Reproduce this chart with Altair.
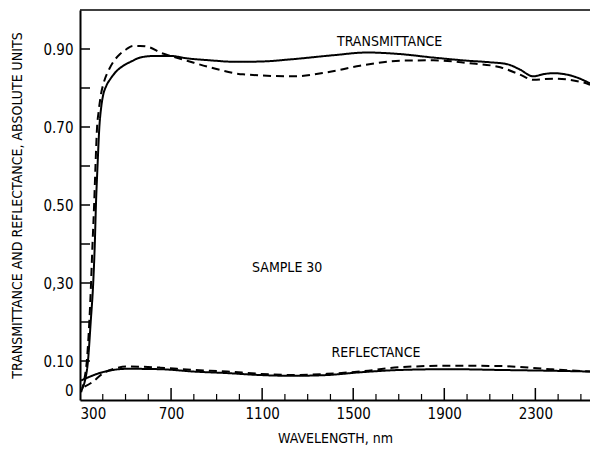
import altair as alt
import pandas as pd

# ---- data ----
t_solid_nm = [310, 322, 335, 347, 358, 365, 370, 377, 385, 393, 401, 415, 432, 460, 490, 525, 564, 620, 700, 770, 870, 990, 1100, 1236, 1412, 1561, 1706, 1852, 2001, 2100, 2177, 2230, 2291, 2340, 2379, 2467, 2540]
t_solid_v = [0.03, 0.05, 0.10, 0.20, 0.30, 0.40, 0.50, 0.60, 0.70, 0.75, 0.78, 0.805, 0.822, 0.843, 0.857, 0.868, 0.878, 0.882, 0.882, 0.876, 0.871, 0.867, 0.868, 0.874, 0.884, 0.891, 0.887, 0.878, 0.870, 0.866, 0.861, 0.848, 0.830, 0.836, 0.838, 0.830, 0.812]

t_dash_nm = [305, 318, 330, 345, 355, 362, 368, 375, 382, 391, 405, 428, 450, 476, 505, 533, 564, 607, 652, 700, 770, 871, 1016, 1236, 1385, 1530, 1706, 1852, 2001, 2146, 2230, 2291, 2379, 2511, 2540]
t_dash_v = [0.02, 0.05, 0.10, 0.25, 0.40, 0.50, 0.60, 0.70, 0.74, 0.78, 0.815, 0.848, 0.870, 0.887, 0.900, 0.908, 0.908, 0.904, 0.891, 0.882, 0.870, 0.853, 0.835, 0.830, 0.840, 0.857, 0.870, 0.871, 0.864, 0.853, 0.835, 0.821, 0.824, 0.814, 0.808]

r_solid_nm = [305, 344, 380, 445, 505, 652, 797, 946, 1091, 1236, 1385, 1530, 1706, 1926, 2146, 2366, 2540]
r_solid_v = [0.050, 0.060, 0.068, 0.077, 0.080, 0.079, 0.073, 0.069, 0.064, 0.062, 0.064, 0.071, 0.077, 0.079, 0.077, 0.075, 0.073]

r_dash_nm = [320, 357, 400, 450, 505, 652, 797, 946, 1091, 1236, 1385, 1530, 1706, 1926, 2146, 2366, 2540]
r_dash_v = [0.034, 0.047, 0.068, 0.080, 0.086, 0.083, 0.077, 0.073, 0.067, 0.064, 0.067, 0.073, 0.084, 0.088, 0.087, 0.079, 0.073]

y_tick_values = [0, 0.1, 0.3, 0.5, 0.7, 0.9]
y_tick_labels = ["0", "0.10", "0,30", "0.50", "0.70", "0.90"]
y_minor_ticks = [0.1, 0.2, 0.3, 0.4, 0.5, 0.6, 0.7, 0.8, 0.9]
x_major_ticks = [300, 700, 1100, 1500, 1900, 2300]
x_minor_ticks = [400, 500, 600, 800, 900, 1000, 1200, 1300, 1400, 1600, 1700, 1800, 2000, 2100, 2200, 2400, 2500]

annot_text = ["TRANSMITTANCE", "SAMPLE 30", "REFLECTANCE"]
annot_nm = [1660, 1210, 1600]
annot_v = [0.918, 0.339, 0.121]

FONT = "Liberation Sans Narrow, DejaVu Sans Condensed, Roboto Condensed, Roboto, sans-serif"

W, H = 510, 390

rows = []
for name, style, xs, ys in [
    ("T_solid", "solid", t_solid_nm, t_solid_v),
    ("T_dash", "dashed", t_dash_nm, t_dash_v),
    ("R_solid", "solid", r_solid_nm, r_solid_v),
    ("R_dash", "dashed", r_dash_nm, r_dash_v),
]:
    for x, y in zip(xs, ys):
        rows.append({"nm": x, "v": y, "curve": name, "style": style})
df = pd.DataFrame(rows)

label_expr = " : ".join(
    [f"datum.value == {v} ? '{l}'" for v, l in zip(y_tick_values, y_tick_labels)]
) + " : ''"

xscale = alt.Scale(domain=[300, 2540], nice=False, zero=False)
yscale = alt.Scale(domain=[0, 1.0], nice=False)

lines = alt.Chart(df).mark_line(interpolate="monotone", strokeWidth=2, color="black").encode(
    x=alt.X("nm:Q", scale=xscale,
            axis=alt.Axis(values=x_major_ticks, format="d", ticks=False, grid=False,
                          title="WAVELENGTH, nm", labelPadding=6, titlePadding=10,
                          domainColor="black", domainWidth=2)),
    y=alt.Y("v:Q", scale=yscale,
            axis=alt.Axis(values=y_tick_values, labelExpr=label_expr, ticks=False, grid=False,
                          title="TRANSMITTANCE AND REFLECTANCE, ABSOLUTE UNITS",
                          labelPadding=7, titlePadding=18,
                          labelOffset={"condition": {"test": "datum.value == 0", "value": -10}, "value": 0},
                          domainColor="black", domainWidth=2)),
    detail="curve:N",
    strokeDash=alt.StrokeDash("style:N", scale=alt.Scale(domain=["solid", "dashed"], range=[[1, 0], [8, 5]]), legend=None),
)

ymin_df = pd.DataFrame({"v": y_minor_ticks})
yticks = alt.Chart(ymin_df).mark_rule(color="black", strokeWidth=1.5).encode(
    y=alt.Y("v:Q", scale=yscale), x=alt.value(0), x2=alt.value(10)
)
xmaj_df = pd.DataFrame({"nm": x_major_ticks[1:]})
xmaj = alt.Chart(xmaj_df).mark_rule(color="black", strokeWidth=1.5).encode(
    x=alt.X("nm:Q", scale=xscale), y=alt.value(H), y2=alt.value(H - 12)
)
xmin_df = pd.DataFrame({"nm": x_minor_ticks})
xmin = alt.Chart(xmin_df).mark_rule(color="black", strokeWidth=1.2).encode(
    x=alt.X("nm:Q", scale=xscale), y=alt.value(H), y2=alt.value(H - 6)
)
top = alt.Chart(pd.DataFrame({"a": [0]})).mark_rule(color="black", strokeWidth=1.5).encode(
    x=alt.value(0), x2=alt.value(W), y=alt.value(0)
)

annot_df = pd.DataFrame({"nm": annot_nm, "v": annot_v, "t": annot_text})
annot = alt.Chart(annot_df).mark_text(font=FONT, fontSize=14, color="black").encode(
    x=alt.X("nm:Q", scale=xscale), y=alt.Y("v:Q", scale=yscale), text="t:N"
)

chart = alt.layer(top, yticks, xmaj, xmin, lines, annot).properties(
    width=W, height=H,
    padding={"left": 72, "top": 2, "right": 0, "bottom": 50},
    autosize=alt.AutoSizeParams(type="none"),
    background="white",
).configure_view(strokeWidth=0).configure_axis(
    labelFont=FONT, titleFont=FONT, labelFontSize=15, titleFontSize=14,
    labelColor="black", titleColor="black", titleFontWeight="normal",
)

chart.save("out.html", embed_options={"renderer": "svg", "actions": False})
